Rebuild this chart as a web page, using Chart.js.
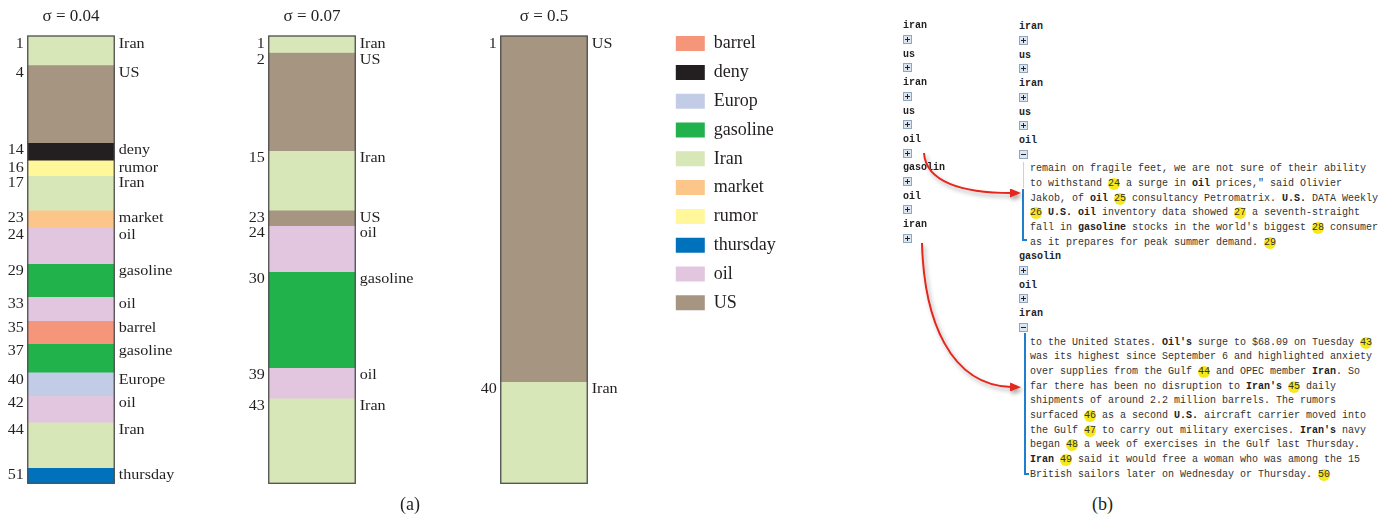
<!DOCTYPE html>
<html>
<head>
<meta charset="utf-8">
<script src="https://cdn.jsdelivr.net/npm/chart.js@4.4.1/dist/chart.umd.min.js"></script>
<style>
  html, body { margin: 0; padding: 0; background: #fff; }
  #page { position: relative; width: 1392px; height: 519px; overflow: hidden; }
  #page canvas { position: absolute; top: 0; }
  .cap { position: absolute; font: 18px "Liberation Serif"; color: #231f20; }
  .tree { position: absolute; font: 10px "Liberation Mono"; color: #333; }
  .tree .w { height: 14.2px; line-height: 14.2px; font-weight: bold; color: #222; position: relative; top: 1.5px; }
  .tree .r { height: 14.2px; position: relative; }
  .ic { position: absolute; left: 0; top: 3px; width: 7px; height: 7px; border: 1px solid #8ea6c0; background: #dbe6f1; }
  .ic::before { content: ""; position: absolute; left: 1px; top: 3px; width: 5px; height: 1px; background: #222; }
  .ic.p::after { content: ""; position: absolute; left: 3px; top: 1px; width: 1px; height: 5px; background: #222; }
  .para { margin-left: 11px; }
  .ln { height: 14.7px; line-height: 14.7px; white-space: pre; position: relative; top: 1.5px; }
  .ln b { color: #222; }
  .n { display: inline-block; width: 12px; height: 12px; line-height: 12px; border-radius: 50%; background: #f7e81c; text-align: center; }
  .brk { position: absolute; }
</style>
</head>
<body>
<div id="page">
  <canvas id="col1" width="220" height="519" style="left:-38.7px"></canvas>
  <canvas id="col2" width="220" height="519" style="left:201.7px"></canvas>
  <canvas id="col3" width="220" height="519" style="left:433.7px"></canvas>
  <canvas id="legend" width="300" height="330" style="left:665.2px"></canvas>
  <div class="cap" style="left:400px;top:494px">(a)</div>
  <div class="cap" style="left:1092px;top:494px">(b)</div>

  <div class="tree" style="left:903px;top:17.9px">
    <div class="w">iran</div><div class="r"><i class="ic p"></i></div>
    <div class="w">us</div><div class="r"><i class="ic p"></i></div>
    <div class="w">iran</div><div class="r"><i class="ic p"></i></div>
    <div class="w">us</div><div class="r"><i class="ic p"></i></div>
    <div class="w">oil</div><div class="r"><i class="ic p"></i></div>
    <div class="w">gasolin</div><div class="r"><i class="ic p"></i></div>
    <div class="w">oil</div><div class="r"><i class="ic p"></i></div>
    <div class="w">iran</div><div class="r"><i class="ic p"></i></div>
  </div>

  <div class="tree" style="left:1019px;top:18.9px">
    <div class="w">iran</div><div class="r"><i class="ic p"></i></div>
    <div class="w">us</div><div class="r"><i class="ic p"></i></div>
    <div class="w">iran</div><div class="r"><i class="ic p"></i></div>
    <div class="w">us</div><div class="r"><i class="ic p"></i></div>
    <div class="w">oil</div><div class="r"><i class="ic"></i></div>
    <div class="para">
      <div class="ln">remain on fragile feet, we are not sure of their ability</div>
      <div class="ln">to withstand <span class="n">24</span> a surge in <b>oil</b> prices," said Olivier</div>
      <div class="ln">Jakob, of <b>oil</b> <span class="n">25</span> consultancy Petromatrix. <b>U.S.</b> DATA Weekly</div>
      <div class="ln"><span class="n">26</span> <b>U.S. oil</b> inventory data showed <span class="n">27</span> a seventh-straight</div>
      <div class="ln">fall in <b>gasoline</b> stocks in the world's biggest <span class="n">28</span> consumer</div>
      <div class="ln">as it prepares for peak summer demand. <span class="n">29</span></div>
    </div>
    <div class="w">gasolin</div><div class="r"><i class="ic p"></i></div>
    <div class="w">oil</div><div class="r"><i class="ic p"></i></div>
    <div class="w">iran</div><div class="r"><i class="ic"></i></div>
    <div class="para">
      <div class="ln">to the United States. <b>Oil's</b> surge to $68.09 on Tuesday <span class="n">43</span></div>
      <div class="ln">was its highest since September 6 and highlighted anxiety</div>
      <div class="ln">over supplies from the Gulf <span class="n">44</span> and OPEC member <b>Iran</b>. So</div>
      <div class="ln">far there has been no disruption to <b>Iran's</b> <span class="n">45</span> daily</div>
      <div class="ln">shipments of around 2.2 million barrels. The rumors</div>
      <div class="ln">surfaced <span class="n">46</span> as a second <b>U.S.</b> aircraft carrier moved into</div>
      <div class="ln">the Gulf <span class="n">47</span> to carry out military exercises. <b>Iran's</b> navy</div>
      <div class="ln">began <span class="n">48</span> a week of exercises in the Gulf last Thursday.</div>
      <div class="ln"><b>Iran</b> <span class="n">49</span> said it would free a woman who was among the 15</div>
      <div class="ln">British sailors later on Wednesday or Thursday. <span class="n">50</span></div>
    </div>
  </div>

  <!-- expanded-node brackets -->
  <div class="brk" style="left:1023px;top:162px;width:1px;height:26px;background:#c4d4e6"></div>
  <div class="brk" style="left:1022px;top:189px;width:2px;height:52px;background:#1f7fcf"></div>
  <div class="brk" style="left:1022px;top:239px;width:5px;height:2px;background:#1f7fcf"></div>
  <div class="brk" style="left:1024px;top:333px;width:2px;height:142px;background:#1f7fcf"></div>
  <div class="brk" style="left:1024px;top:473px;width:5px;height:2px;background:#1f7fcf"></div>

  <svg width="1392" height="519" style="position:absolute;left:0;top:0;pointer-events:none">
    <defs>
      <filter id="shade" x="-20%" y="-20%" width="140%" height="140%">
        <feDropShadow dx="2" dy="3" stdDeviation="2" flood-color="#000" flood-opacity="0.35"/>
      </filter>
      <marker id="head" markerUnits="userSpaceOnUse" markerWidth="11" markerHeight="9" refX="1" refY="4.5" orient="auto">
        <path d="M0,0 L11,4.5 L0,9 z" fill="#e4261f"/>
      </marker>
    </defs>
    <g filter="url(#shade)" fill="none" stroke="#e4261f" stroke-width="2">
      <path d="M924,153 C926,182 962,193 1011,193" marker-end="url(#head)"/>
      <path d="M922,243 C924,320 950,385 1011,387" marker-end="url(#head)"/>
    </g>
  </svg>
</div>

<script>
// one column per sigma threshold
const sigmaTitles = ['σ = 0.04', 'σ = 0.07', 'σ = 0.5'];

// topic colours, in legend order
const legendTopics = ['barrel', 'deny', 'Europ', 'gasoline', 'Iran', 'market', 'rumor', 'thursday', 'oil', 'US'];
const legendColors = ['#f5967a', '#231f20', '#c3cce6', '#22b24c', '#d7e7b7', '#fcc68a', '#fff799', '#0072bc', '#e2c5de', '#a69580'];

// σ = 0.04
const topics1 = ['Iran', 'US', 'deny', 'rumor', 'Iran', 'market', 'oil', 'gasoline', 'oil', 'barrel', 'gasoline', 'Europe', 'oil', 'Iran', 'thursday'];
const starts1 = [1, 4, 14, 16, 17, 23, 24, 29, 33, 35, 37, 40, 42, 44, 51];
const sizes1 = [29, 77.5, 17.5, 15.5, 34.5, 17, 36.5, 33, 24, 23, 28.5, 23.5, 26.5, 45.5, 15.5];

// σ = 0.07
const topics2 = ['Iran', 'US', 'Iran', 'US', 'oil', 'gasoline', 'oil', 'Iran'];
const starts2 = [1, 2, 15, 23, 24, 30, 39, 43];
const sizes2 = [16.5, 98, 59.5, 15.5, 46, 96, 30.5, 85];

// σ = 0.5
const topics3 = ['US', 'Iran'];
const starts3 = [1, 40];
const sizes3 = [345.5, 101.5];

const columnTotal = sizes1.reduce((a, b) => a + b, 0);
const ink = '#231f20';

function colourFor(topic) {
  return legendColors[legendTopics.findIndex(t => topic.startsWith(t))];
}

// text is drawn a little wide, like the rest of the figure
function wideText(ctx, text, x, y, align) {
  ctx.save();
  ctx.translate(x, y);
  ctx.scale(1.15, 1);
  ctx.textAlign = align;
  ctx.fillText(text, 0, 0);
  ctx.restore();
}

// topic name on the right of each segment, first sentence index on the left,
// and a frame round the whole column
const segmentLabels = {
  id: 'segmentLabels',
  afterDatasetsDraw(chart) {
    const ctx = chart.ctx;
    const bars = chart.data.datasets.map((ds, i) => chart.getDatasetMeta(i).data[0]);
    ctx.save();
    ctx.font = '14px "Liberation Serif"';
    ctx.fillStyle = ink;
    ctx.textBaseline = 'alphabetic';
    bars.forEach((bar, i) => {
      const ds = chart.data.datasets[i];
      const top = Math.min(bar.y, bar.base);
      const half = bar.width / 2;
      wideText(ctx, ds.label, bar.x + half + 4.5, top + 11.5, 'left');
      wideText(ctx, String(ds.start), bar.x - half - 4, top + 11.5, 'right');
    });
    const first = bars[0];
    const last = bars[bars.length - 1];
    const top = Math.min(first.y, first.base);
    const bottom = Math.max(last.y, last.base);
    ctx.strokeStyle = '#4d4d4d';
    ctx.lineWidth = 1.3;
    ctx.strokeRect(first.x - first.width / 2, top, first.width, bottom - top);
    ctx.restore();
  }
};

function segmentChart(id, title, topics, starts, sizes) {
  new Chart(document.getElementById(id), {
    type: 'bar',
    data: {
      labels: [title],
      datasets: sizes.map((v, i) => ({
        label: topics[i],
        start: starts[i],
        data: [v],
        backgroundColor: colourFor(topics[i]),
        borderWidth: 0,
        barThickness: 86.5
      }))
    },
    options: {
      responsive: false,
      animation: false,
      layout: { padding: { bottom: 35.7 } },
      scales: {
        x: { display: false, stacked: true },
        y: { display: false, stacked: true, reverse: true, min: 0, max: columnTotal }
      },
      plugins: {
        legend: { display: false },
        tooltip: { enabled: false },
        title: {
          display: true,
          text: title,
          color: ink,
          font: { family: 'Liberation Serif', size: 17, weight: 'normal' },
          padding: { top: 6.4, bottom: 9.2 }
        }
      }
    },
    plugins: [segmentLabels]
  });
}

segmentChart('col1', sigmaTitles[0], topics1, starts1, sizes1);
segmentChart('col2', sigmaTitles[1], topics2, starts2, sizes2);
segmentChart('col3', sigmaTitles[2], topics3, starts3, sizes3);

// shared legend for all three columns
new Chart(document.getElementById('legend'), {
  type: 'bar',
  data: {
    labels: [],
    datasets: legendTopics.map((t, i) => ({
      label: t,
      data: [],
      backgroundColor: legendColors[i],
      borderWidth: 0
    }))
  },
  options: {
    responsive: false,
    animation: false,
    layout: { padding: { top: 23.8 } },
    scales: { x: { display: false }, y: { display: false } },
    plugins: {
      tooltip: { enabled: false },
      legend: {
        position: 'left',
        align: 'start',
        labels: {
          boxWidth: 29,
          boxHeight: 15,
          padding: 10.8,
          color: ink,
          font: { family: 'Liberation Serif', size: 18 }
        }
      }
    }
  }
});
</script>
</body>
</html>
